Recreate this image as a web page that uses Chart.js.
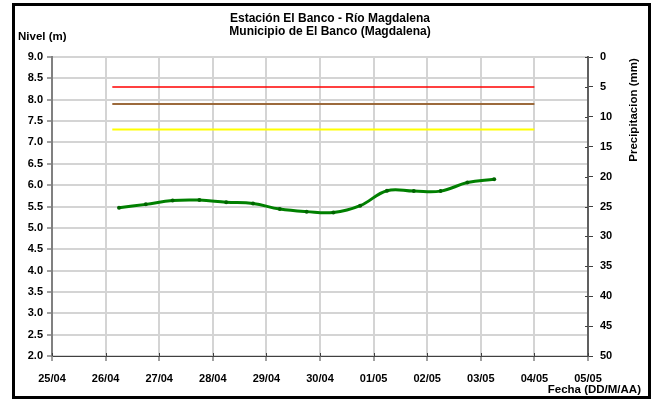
<!DOCTYPE html>
<html>
<head>
<meta charset="utf-8">
<script src="https://cdn.jsdelivr.net/npm/chart.js@4"></script>
<style>
  html, body { margin: 0; padding: 0; background: #fff; }
</style>
</head>
<body>
<canvas id="grafico" width="654" height="401"></canvas>
<script>
// fechas del eje x (un tick por dia)
let fechas = ["25/04", "26/04", "27/04", "28/04", "29/04", "30/04", "01/05", "02/05", "03/05", "04/05", "05/05"];

// lecturas del nivel (m)
let lecturas = ["26/04 06:00", "26/04 18:00", "27/04 06:00", "27/04 18:00", "28/04 06:00", "28/04 18:00",
  "29/04 06:00", "29/04 18:00", "30/04 06:00", "30/04 18:00", "01/05 06:00", "01/05 18:00",
  "02/05 06:00", "02/05 18:00", "03/05 06:00"];
let nivel = [5.47, 5.55, 5.64, 5.65, 5.60, 5.57, 5.44, 5.38, 5.36, 5.52, 5.87, 5.86, 5.86, 6.06, 6.14];

// cotas de alerta
let alertaDesde = "26/04 03:00";
let alertaHasta = "04/05 00:00";
let alertaRoja = 8.3;
let alertaCafe = 7.9;
let alertaAmarilla = 7.3;

// ejes
let nivelMin = 2, nivelMax = 9, nivelPaso = 0.5;
let precipMin = 0, precipMax = 50, precipPaso = 5;

let fuente = "'Liberation Sans', Arial, sans-serif";

function dia(texto) {
  let partes = texto.split(" ");
  let hora = partes[1].split(":");
  return fechas.indexOf(partes[0]) + (Number(hora[0]) + Number(hora[1]) / 60) / 24;
}

function linea(valor) {
  return [{ x: dia(alertaDesde), y: valor }, { x: dia(alertaHasta), y: valor }];
}

// textos, marco y marcas cruzadas
let extras = {
  id: "extras",
  afterDraw(chart) {
    let ctx = chart.ctx;
    let area = chart.chartArea;
    ctx.save();

    // marcas hacia adentro en eje x y eje derecho
    ctx.strokeStyle = "#404040";
    ctx.lineWidth = 1;
    let sx = chart.scales.x;
    sx.ticks.forEach((t) => {
      let px = Math.round(sx.getPixelForValue(t.value)) + 0.5;
      ctx.beginPath();
      ctx.moveTo(px, area.bottom);
      ctx.lineTo(px, area.bottom - 3);
      ctx.stroke();
    });
    let sy = chart.scales.y1;
    sy.ticks.forEach((t) => {
      let py = Math.round(sy.getPixelForValue(t.value)) + 0.5;
      ctx.beginPath();
      ctx.moveTo(area.right, py);
      ctx.lineTo(area.right - 3, py);
      ctx.stroke();
    });

    ctx.fillStyle = "#000";
    ctx.textBaseline = "middle";
    ctx.font = "bold 12px " + fuente;
    ctx.textAlign = "center";
    ctx.fillText("Estación El Banco - Río Magdalena", 330, 19);
    ctx.fillText("Municipio de El Banco (Magdalena)", 330, 32);

    ctx.font = "bold 11.5px " + fuente;
    ctx.textAlign = "left";
    ctx.fillText("Nivel (m)", 18, 37);
    ctx.textAlign = "right";
    ctx.fillText("Fecha (DD/M/AA)", 641, 390);

    ctx.save();
    ctx.translate(634, 110);
    ctx.rotate(-Math.PI / 2);
    ctx.textAlign = "center";
    ctx.fillText("Precipitacion (mm)", 0, 0);
    ctx.restore();

    // marco exterior
    ctx.strokeStyle = "#000";
    ctx.lineWidth = 3;
    ctx.strokeRect(13.5, 4.5, 636, 393);
    ctx.restore();
  }
};

let ctx = document.getElementById("grafico").getContext("2d");

let chart = new Chart(ctx, {
  type: "line",
  data: {
    datasets: [
      {
        label: "Nivel",
        data: lecturas.map((l, i) => ({ x: dia(l), y: nivel[i] })),
        borderColor: "#008000",
        borderWidth: 3,
        tension: 0.4,
        pointRadius: 2,
        pointBorderWidth: 0,
        pointBackgroundColor: "#006400",
        yAxisID: "y"
      },
      {
        label: "Alerta roja",
        data: linea(alertaRoja),
        borderColor: "#ff0000",
        borderWidth: 1.5,
        pointRadius: 0,
        yAxisID: "y"
      },
      {
        label: "Alerta cafe",
        data: linea(alertaCafe),
        borderColor: "#9c6a3c",
        borderWidth: 2,
        pointRadius: 0,
        yAxisID: "y"
      },
      {
        label: "Alerta amarilla",
        data: linea(alertaAmarilla),
        borderColor: "#ffff00",
        borderWidth: 2,
        pointRadius: 0,
        yAxisID: "y"
      }
    ]
  },
  options: {
    responsive: false,
    animation: false,
    layout: { padding: { top: 57, left: 0, right: 0, bottom: 0 } },
    plugins: {
      legend: { display: false },
      tooltip: { enabled: false }
    },
    scales: {
      x: {
        type: "linear",
        min: 0,
        max: fechas.length - 1,
        afterBuildTicks: (s) => { s.ticks = fechas.map((f, i) => ({ value: i })); },
        afterFit: (s) => { s.height = 45; },
        ticks: {
          stepSize: 1,
          autoSkip: false,
          maxRotation: 0,
          padding: 11,
          color: "#000",
          font: { family: fuente, size: 11, weight: "bold" },
          callback: (v) => fechas[v]
        },
        grid: { color: "#d4d4d4", lineWidth: 2, tickLength: 5, tickColor: "#404040", tickWidth: 1 },
        border: { color: "#404040", width: 1 }
      },
      y: {
        position: "left",
        min: nivelMin,
        max: nivelMax,
        afterFit: (s) => { s.width = 52; },
        ticks: {
          stepSize: nivelPaso,
          padding: 4,
          color: "#000",
          font: { family: fuente, size: 11, weight: "bold" },
          callback: (v) => v.toFixed(1)
        },
        grid: { color: "#d4d4d4", lineWidth: 2, tickLength: 5, tickColor: "#404040", tickWidth: 1 },
        border: { color: "#808080", width: 2 }
      },
      y1: {
        position: "right",
        display: true,
        reverse: true,
        min: precipMin,
        max: precipMax,
        afterFit: (s) => { s.width = 66; },
        ticks: {
          stepSize: precipPaso,
          padding: 7,
          color: "#000",
          font: { family: fuente, size: 11, weight: "bold" }
        },
        grid: { drawOnChartArea: false, tickLength: 5, tickColor: "#404040", tickWidth: 1 },
        border: { color: "#606060", width: 2 }
      }
    }
  },
  plugins: [extras]
});
</script>
</body>
</html>
